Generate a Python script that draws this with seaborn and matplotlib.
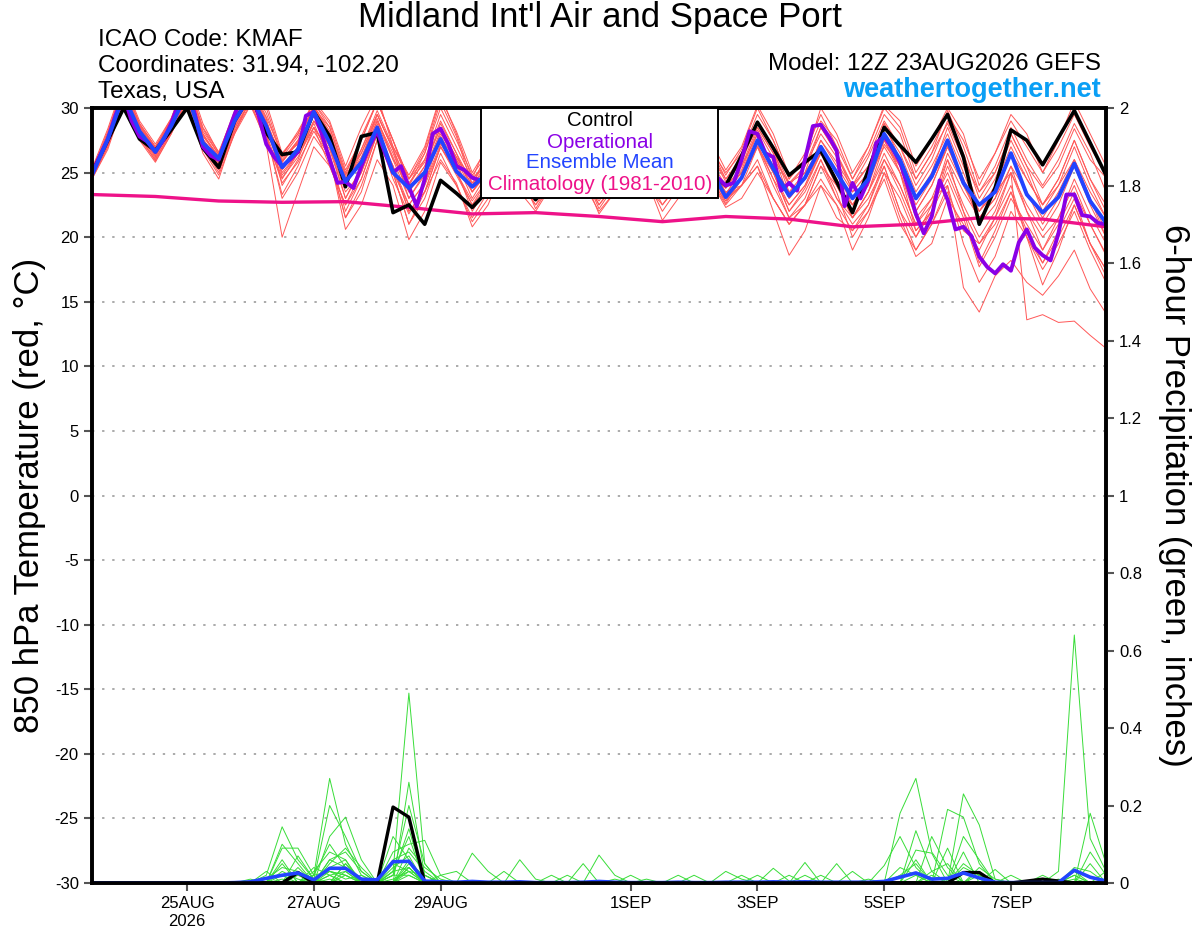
import numpy as np
import pandas as pd
import matplotlib
matplotlib.use("Agg")
import matplotlib.pyplot as plt
from matplotlib.patches import Rectangle
import seaborn as sns

# --- time axes (6-hourly ensemble, 3-hourly operational, daily climatology) ---
times = pd.date_range("2026-08-23 12:00", periods=65, freq="6h")
times_op = pd.date_range("2026-08-23 12:00", periods=129, freq="3h")
times_clim = pd.date_range("2026-08-23 12:00", periods=17, freq="24h")

tick_dates = ["2026-08-25", "2026-08-27", "2026-08-29", "2026-09-01",
              "2026-09-03", "2026-09-05", "2026-09-07"]
tick_labels = ["25AUG\n2026", "27AUG", "29AUG", "1SEP", "3SEP", "5SEP", "7SEP"]

# --- 850 hPa temperature (C) ---
temp_control = [25.0, 27.5, 30.0, 27.6, 26.7, 28.3, 30.0, 26.9, 25.4, 29.0, 31.0, 28.1,
                26.4, 26.6, 29.7, 27.8, 23.9, 27.8, 28.1, 21.9, 22.5, 21.0, 24.4, 23.4,
                22.3, 23.6, 26.0, 24.5, 22.9, 24.5, 26.5, 25.0, 23.5, 25.0, 27.0, 25.2,
                23.4, 24.8, 26.8, 25.0, 24.0, 26.3, 28.9, 26.9, 24.8, 25.8, 26.7, 24.3,
                21.9, 25.2, 28.5, 27.1, 25.8, 27.6, 29.5, 26.2, 21.0, 23.8, 28.3, 27.5,
                25.6, 27.7, 29.8, 27.3, 24.8]
temp_mean = [24.8, 27.6, 31.0, 28.2, 26.6, 28.6, 31.2, 27.3, 26.1, 29.0, 31.0, 28.6,
             25.4, 26.8, 29.7, 27.3, 24.3, 25.8, 28.5, 25.0, 23.8, 25.0, 27.6, 25.1,
             23.9, 25.0, 27.8, 25.6, 24.0, 25.4, 27.6, 25.5, 23.9, 25.2, 27.7, 25.6,
             23.8, 25.0, 27.5, 25.4, 23.1, 24.6, 27.5, 25.3, 23.2, 24.6, 27.0, 25.0,
             23.0, 24.5, 28.0, 26.0, 23.0, 24.7, 27.5, 24.2, 22.5, 23.5, 26.5, 23.3,
             21.9, 23.1, 25.7, 22.8, 21.1]
temp_oper = [24.9, 26.3, 27.6, 29.5, 31.0, 29.0, 27.8, 27.4,
             26.6, 27.5, 28.8, 30.5, 31.5, 29.5, 27.0, 26.3,
             26.0, 27.8, 29.5, 31.0, 31.5, 29.5, 27.2, 26.2,
             25.5, 26.0, 26.6, 29.4, 29.7, 28.0, 26.0, 24.2,
             24.3, 23.8, 25.5, 27.0, 28.2, 26.5, 25.0, 25.5,
             23.9, 22.4, 24.5, 28.0, 28.4, 27.2, 25.5, 25.2,
             24.6, 24.4, 24.8, 25.8, 27.5, 27.0, 25.8, 25.0,
             24.2, 24.8, 25.5, 26.6, 27.8, 27.0, 25.6, 24.8,
             24.0, 24.6, 25.4, 26.5, 27.6, 27.0, 25.8, 24.9,
             24.0, 24.6, 25.4, 26.5, 27.4, 26.8, 25.6, 24.6,
             24.0, 24.2, 26.0, 28.2, 28.0, 26.5, 26.2, 23.6,
             24.2, 23.6, 26.0, 28.6, 28.7, 27.8, 26.7, 22.4,
             24.2, 23.0, 24.4, 27.3, 27.8, 26.9, 25.8, 23.9,
             21.8, 20.3, 21.6, 24.4, 22.9, 20.6, 20.8, 20.1,
             18.5, 17.7, 17.2, 17.9, 17.4, 19.6, 20.6, 19.2,
             18.6, 18.2, 20.3, 23.3, 23.3, 21.7, 21.6, 21.1,
             21.0]
temp_clim = [23.3, 23.15, 22.8, 22.7, 22.75, 22.3, 21.8, 21.9, 21.6, 21.2, 21.6, 21.4,
             20.8, 21.0, 21.5, 21.4, 20.8]

temp_members = [
    [24.9, 27.8, 31.5, 28.5, 26.9, 28.8, 31.8, 27.8, 26.3, 29.4, 31.6, 29.0, 26.0, 27.5, 30.2, 28.0,
     24.8, 26.5, 29.2, 26.0, 24.2, 25.8, 28.4, 26.2, 24.5, 25.8, 28.2, 26.3, 24.6, 26.0, 28.3, 26.2,
     24.4, 25.8, 28.5, 26.4, 24.5, 25.6, 28.0, 26.0, 24.0, 25.2, 28.3, 26.1, 24.2, 25.5, 28.0, 26.2,
     24.0, 26.2, 29.0, 27.0, 24.5, 26.5, 28.8, 26.0, 23.5, 25.0, 28.0, 25.5, 23.8, 25.5, 28.4, 26.0, 24.6],
    [24.6, 27.0, 30.8, 28.0, 26.2, 28.4, 31.0, 27.5, 25.8, 28.5, 30.5, 27.2, 20.0, 23.5, 27.0, 25.5,
     22.5, 25.0, 28.8, 26.0, 23.0, 24.8, 27.5, 25.0, 22.8, 24.5, 27.0, 25.2, 23.5, 25.0, 27.6, 25.4,
     23.0, 24.5, 27.2, 25.0, 22.5, 24.2, 27.0, 25.2, 23.2, 24.6, 27.0, 25.0, 22.0, 23.8, 26.5, 24.5,
     21.5, 23.5, 27.2, 25.5, 22.0, 24.0, 27.0, 24.5, 21.0, 22.5, 25.5, 22.0, 20.0, 21.5, 24.5, 21.8, 19.5],
    [25.3, 28.4, 32.0, 29.0, 27.2, 29.2, 32.5, 28.8, 26.5, 29.8, 32.2, 30.4, 26.5, 28.0, 30.6, 29.0,
     25.5, 28.5, 31.0, 27.0, 24.8, 27.0, 31.0, 28.0, 24.5, 27.5, 30.5, 28.2, 25.0, 27.0, 30.2, 27.8,
     24.8, 26.8, 30.0, 27.5, 24.6, 26.5, 29.8, 27.6, 25.2, 27.0, 30.2, 28.0, 24.8, 26.0, 30.0, 28.0,
     25.0, 27.0, 30.2, 29.0, 25.5, 27.5, 30.0, 28.0, 24.0, 26.5, 29.5, 28.0, 25.0, 27.5, 30.5, 28.0, 25.5],
    [24.7, 27.3, 31.0, 28.0, 26.4, 28.5, 31.2, 27.5, 25.9, 28.8, 31.0, 28.4, 25.2, 26.8, 29.5, 27.0,
     23.5, 25.0, 28.0, 24.5, 21.8, 24.0, 27.0, 24.8, 22.5, 24.0, 26.5, 24.5, 23.0, 24.5, 26.8, 24.8,
     22.5, 24.2, 27.0, 25.0, 23.0, 24.5, 27.2, 25.0, 22.8, 24.0, 26.0, 23.0, 21.0, 22.5, 25.5, 24.0,
     22.5, 24.5, 27.0, 25.0, 21.5, 23.0, 24.0, 16.1, 14.2, 17.0, 18.2, 16.5, 15.5, 17.0, 19.0, 16.0, 14.1],
    [25.1, 27.9, 31.2, 28.3, 26.7, 28.9, 31.4, 27.0, 26.0, 29.0, 31.5, 29.2, 24.0, 26.0, 29.0, 27.5,
     24.0, 26.8, 29.8, 27.0, 24.5, 26.0, 29.0, 26.5, 23.5, 25.5, 28.5, 26.8, 24.2, 25.8, 28.0, 26.0,
     23.8, 25.5, 28.2, 26.2, 24.0, 25.8, 28.5, 26.5, 24.5, 26.0, 29.0, 26.8, 23.5, 25.0, 28.5, 26.5,
     24.0, 25.5, 28.0, 25.0, 22.0, 24.0, 27.0, 24.5, 22.0, 23.5, 25.0, 13.6, 14.0, 13.4, 13.5, 12.4, 11.4],
    [24.8, 27.5, 31.3, 28.2, 26.6, 28.6, 31.0, 27.2, 25.6, 28.2, 30.6, 28.0, 23.3, 25.5, 28.5, 26.5,
     22.0, 24.5, 28.0, 25.5, 22.5, 24.2, 27.8, 25.8, 23.0, 25.0, 27.5, 25.5, 23.5, 25.5, 28.5, 26.5,
     24.0, 25.5, 27.5, 25.0, 23.0, 24.5, 27.0, 25.5, 23.8, 25.5, 28.0, 25.0, 22.5, 24.0, 26.5, 24.0,
     21.5, 23.5, 26.5, 24.0, 21.0, 22.5, 25.0, 22.0, 19.5, 21.5, 24.0, 20.0, 16.3, 19.0, 22.5, 19.5, 17.5],
    [24.5, 26.8, 30.5, 27.8, 25.9, 28.0, 30.8, 27.0, 25.2, 28.0, 30.2, 27.5, 24.5, 26.5, 28.8, 26.0,
     21.5, 23.5, 27.5, 25.0, 21.0, 23.0, 26.5, 24.0, 21.2, 23.0, 26.0, 24.2, 22.5, 24.5, 27.0, 25.0,
     23.0, 24.8, 27.8, 25.5, 23.5, 25.0, 27.0, 24.8, 22.6, 24.5, 27.5, 25.5, 23.5, 24.5, 26.5, 24.0,
     22.5, 24.0, 27.5, 25.0, 20.5, 22.0, 24.5, 21.5, 17.7, 20.0, 23.0, 21.0, 19.0, 21.5, 24.0, 21.0, 18.7],
    [24.9, 27.6, 31.0, 28.6, 26.8, 29.0, 31.6, 28.0, 26.2, 29.2, 31.2, 28.8, 25.5, 27.0, 29.8, 27.5,
     24.5, 26.0, 29.0, 26.5, 23.5, 25.5, 28.5, 26.0, 24.0, 25.5, 28.0, 26.0, 23.8, 25.5, 27.8, 25.8,
     23.5, 25.0, 27.5, 25.5, 23.8, 25.2, 27.8, 25.5, 23.5, 24.0, 25.5, 22.0, 18.6, 20.5, 24.0, 22.5,
     19.0, 21.5, 25.0, 23.0, 20.0, 22.0, 26.0, 23.5, 21.5, 23.0, 26.5, 24.5, 22.5, 24.0, 26.0, 23.5, 21.5],
    [24.6, 27.2, 30.6, 27.6, 26.0, 28.2, 30.6, 26.8, 24.8, 28.0, 30.8, 28.2, 25.8, 27.5, 30.0, 28.0,
     24.0, 26.0, 29.5, 26.8, 23.0, 25.0, 28.0, 26.0, 23.5, 25.0, 27.8, 25.5, 23.2, 24.8, 27.2, 25.0,
     22.5, 24.0, 26.5, 24.5, 21.3, 23.0, 26.5, 24.5, 22.8, 24.5, 27.0, 24.5, 21.5, 23.0, 26.0, 23.5,
     20.0, 22.0, 25.0, 21.5, 18.5, 19.5, 23.0, 21.0, 19.0, 21.5, 25.0, 22.5, 20.5, 22.5, 25.5, 22.5, 20.0],
    [25.0, 28.0, 31.6, 28.8, 27.0, 29.0, 32.0, 28.2, 26.4, 29.5, 31.8, 29.6, 26.2, 27.8, 30.0, 28.5,
     25.0, 27.5, 30.5, 27.5, 24.5, 26.5, 30.0, 27.5, 24.8, 26.5, 29.5, 27.5, 24.5, 26.5, 29.5, 27.0,
     24.6, 26.5, 29.0, 27.0, 24.8, 26.2, 29.0, 26.8, 25.0, 26.5, 29.5, 27.5, 24.5, 26.5, 29.5, 27.0,
     24.5, 27.0, 30.0, 28.5, 25.0, 27.0, 29.5, 27.5, 24.5, 26.5, 29.0, 27.0, 25.0, 27.0, 29.5, 27.0, 24.8],
    [24.7, 27.4, 30.9, 28.1, 26.5, 28.6, 31.3, 27.6, 25.9, 29.0, 31.2, 28.6, 24.8, 26.5, 29.0, 27.0,
     23.0, 25.5, 28.5, 25.5, 22.0, 23.5, 26.0, 24.2, 20.8, 22.5, 25.5, 23.5, 22.0, 24.0, 26.5, 24.5,
     22.8, 24.5, 27.0, 25.0, 23.5, 25.0, 27.5, 25.0, 23.0, 24.0, 25.5, 23.0, 21.0, 22.5, 24.0, 21.5,
     20.5, 22.0, 24.5, 21.0, 19.0, 21.0, 23.5, 20.5, 19.5, 21.0, 23.5, 20.5, 18.0, 20.0, 22.5, 19.5, 17.5],
    [24.8, 27.7, 31.2, 28.4, 26.7, 28.8, 31.5, 27.9, 26.0, 29.0, 31.0, 28.8, 26.2, 27.2, 29.5, 27.2,
     24.2, 26.5, 29.5, 26.8, 23.8, 25.5, 28.8, 26.5, 24.2, 26.0, 28.8, 26.5, 24.0, 25.5, 28.5, 26.5,
     23.8, 25.8, 28.2, 26.0, 24.2, 25.8, 28.5, 26.2, 23.2, 25.5, 28.5, 26.5, 23.0, 24.5, 27.5, 25.5,
     23.5, 25.0, 28.5, 26.5, 23.5, 25.5, 28.0, 25.0, 22.0, 23.5, 26.5, 23.5, 21.0, 23.0, 26.0, 23.0, 20.0],
    [24.5, 27.0, 30.4, 27.5, 25.8, 28.0, 30.5, 26.5, 24.5, 28.2, 30.3, 27.8, 24.2, 25.8, 28.2, 26.2,
     20.6, 22.5, 26.0, 24.0, 19.8, 22.0, 25.8, 24.0, 21.5, 23.5, 26.5, 24.5, 22.5, 24.0, 26.2, 24.2,
     22.0, 23.5, 26.0, 24.0, 22.5, 24.0, 26.5, 24.5, 22.3, 23.0, 25.0, 23.0, 21.0, 22.5, 25.5, 23.0,
     21.5, 23.5, 26.0, 23.5, 20.5, 22.0, 25.5, 22.5, 20.0, 22.0, 25.0, 22.0, 19.0, 21.0, 23.5, 21.0, 18.6],
    [25.2, 28.2, 31.8, 28.8, 27.0, 29.2, 32.2, 28.5, 26.6, 29.6, 32.0, 30.0, 26.3, 28.2, 30.4, 28.5,
     24.8, 27.8, 30.5, 27.5, 24.0, 26.5, 30.5, 27.8, 24.0, 26.8, 29.8, 27.5, 24.6, 26.2, 29.0, 27.0,
     24.5, 26.2, 29.5, 27.2, 24.5, 26.0, 29.2, 27.0, 24.5, 26.2, 28.5, 26.5, 24.0, 25.5, 28.5, 26.5,
     23.5, 25.0, 28.8, 27.0, 24.0, 26.0, 29.0, 26.5, 23.0, 25.0, 28.0, 25.5, 22.5, 24.5, 27.5, 24.5, 22.0],
    [24.6, 27.1, 30.7, 27.9, 26.3, 28.3, 30.9, 27.3, 25.5, 28.6, 30.8, 28.0, 23.0, 25.0, 27.8, 26.0,
     21.5, 24.0, 27.5, 25.0, 21.0, 23.5, 27.0, 25.0, 22.5, 24.5, 27.5, 25.5, 23.5, 25.0, 27.5, 25.0,
     22.2, 24.0, 27.0, 25.0, 23.0, 24.5, 27.5, 25.5, 23.8, 25.0, 27.5, 25.0, 22.0, 23.5, 26.0, 23.0,
     21.0, 22.5, 26.0, 24.0, 21.0, 23.0, 26.0, 22.0, 18.0, 20.5, 23.5, 20.0, 17.5, 19.5, 22.0, 19.0, 16.5],
    [24.9, 27.7, 31.4, 28.6, 26.8, 28.7, 31.7, 28.0, 26.1, 29.1, 31.4, 28.9, 25.8, 27.4, 30.2, 28.2,
     24.6, 26.8, 29.5, 26.8, 24.0, 26.0, 29.5, 27.0, 24.5, 26.0, 29.0, 26.8, 24.5, 26.2, 28.8, 26.5,
     24.2, 26.0, 28.8, 26.5, 24.0, 25.8, 28.6, 26.5, 24.3, 25.8, 28.8, 26.8, 24.2, 25.0, 27.0, 24.0,
     21.5, 23.0, 25.5, 22.0, 20.0, 22.5, 26.5, 24.0, 22.0, 24.0, 27.0, 24.5, 22.5, 24.5, 27.5, 24.5, 22.5],
    [24.7, 27.5, 31.1, 28.3, 26.5, 28.5, 31.2, 27.4, 25.7, 28.7, 30.9, 28.3, 25.0, 26.5, 28.5, 25.5,
     22.5, 24.5, 28.0, 25.5, 22.0, 23.5, 27.0, 25.2, 22.0, 24.0, 27.0, 25.0, 22.2, 24.2, 26.8, 24.8,
     21.8, 23.5, 26.5, 24.5, 22.0, 23.8, 26.5, 24.5, 22.5, 24.0, 27.0, 24.0, 21.5, 22.5, 24.5, 22.5,
     20.5, 22.5, 25.5, 22.0, 19.0, 21.0, 24.0, 19.5, 16.5, 18.5, 22.0, 20.0, 18.0, 20.5, 23.0, 19.5, 17.0],
    [25.0, 28.1, 31.7, 28.7, 26.9, 29.1, 32.0, 28.4, 26.4, 29.3, 31.8, 29.3, 26.4, 28.0, 30.4, 28.8,
     25.2, 27.5, 30.5, 27.5, 24.5, 26.8, 30.8, 28.2, 25.0, 27.0, 30.2, 28.0, 24.8, 26.8, 29.8, 27.5,
     24.6, 26.5, 29.8, 27.5, 24.8, 26.5, 29.5, 27.2, 24.8, 26.8, 30.0, 27.5, 24.5, 26.0, 29.0, 27.5,
     24.5, 26.5, 29.5, 28.0, 24.5, 26.5, 29.8, 27.0, 23.5, 25.5, 28.5, 26.0, 24.0, 26.0, 28.8, 26.5, 23.5],
    [24.6, 27.3, 30.8, 27.8, 26.1, 28.1, 30.8, 27.0, 25.0, 28.4, 30.6, 28.0, 24.6, 26.2, 28.5, 26.8,
     23.0, 25.2, 28.2, 25.0, 22.5, 24.2, 27.2, 25.5, 23.5, 25.2, 27.8, 26.0, 23.8, 25.5, 27.8, 25.5,
     23.0, 24.8, 27.2, 25.5, 23.5, 25.0, 27.5, 25.0, 23.8, 25.0, 27.2, 24.5, 22.5, 24.0, 26.8, 25.0,
     22.5, 24.5, 27.5, 25.5, 22.5, 24.5, 27.0, 24.0, 21.5, 23.0, 25.5, 23.5, 21.5, 23.5, 26.0, 23.0, 20.5],
    [24.8, 27.6, 31.2, 28.4, 26.6, 28.7, 31.4, 27.6, 25.9, 29.1, 31.3, 28.9, 25.9, 27.3, 29.6, 27.8,
     24.4, 26.2, 29.0, 26.2, 23.5, 25.2, 28.2, 26.2, 24.0, 25.8, 28.5, 26.2, 24.0, 25.6, 28.0, 25.8,
     23.5, 25.2, 28.0, 26.0, 23.8, 25.4, 28.2, 25.8, 23.4, 25.0, 28.0, 25.5, 23.0, 24.5, 27.5, 25.8,
     23.8, 25.5, 28.8, 26.0, 23.0, 25.0, 28.5, 25.5, 22.5, 24.5, 27.5, 25.0, 22.0, 24.0, 27.0, 24.0, 21.5],
]

# --- 6-hour precipitation (inches) ---
precip_control = [0, 0, 0, 0, 0, 0, 0, 0, 0, 0, 0, 0, 0,
                  .027, 0, 0, 0, 0, 0, .196, .17, 0, 0, 0, 0, 0,
                  0, 0, 0, 0, 0, 0, 0, 0, 0, 0, 0, 0, 0,
                  0, 0, 0, 0, 0, 0, 0, 0, 0, 0, 0, 0, 0,
                  0, 0, 0, .027, .027, 0, 0, .005, .01, .005, 0, 0, 0]
precip_mean = [0, 0, 0, 0, 0, 0, 0, 0, 0, .001, .003, .012, .02,
               .026, .008, .038, .038, .01, .008, .055, .056, .005, .003, .002, .004, .002,
               .002, .003, .001, .001, .001, .002, .004, .002, .001, .001, .001, .002, .001,
               .001, .002, .002, .002, .003, .002, .003, .002, .002, .002, .002, .004, .015,
               .026, .01, .012, .026, .013, .002, .001, .001, .001, .001, .033, .015, .005]

precip_members = [
    [0, 0, 0, 0, 0, 0, 0, 0, 0, 0, 0, .02, .145,
     .06, .01, .03, .02, 0, 0, .03, .49, .05, 0, 0, 0, 0,
     0, 0, 0, 0, 0, 0, 0, 0, 0, 0, 0, 0, 0,
     0, 0, 0, 0, 0, 0, 0, 0, 0, 0, 0, 0, .02,
     .05, 0, 0, 0, 0, 0, 0, 0, 0, 0, 0, 0, 0],
    [0, 0, 0, 0, 0, 0, 0, 0, 0, 0, 0, 0, .09,
     .09, .02, .27, .10, .02, 0, 0, .26, .02, 0, 0, 0, 0,
     0, 0, 0, 0, 0, 0, 0, 0, 0, 0, 0, 0, 0,
     0, 0, 0, 0, 0, 0, 0, 0, 0, 0, 0, 0, 0,
     0, 0, 0, 0, 0, 0, 0, 0, 0, .03, .64, .115, .03],
    [0, 0, 0, 0, 0, 0, 0, 0, 0, 0, 0, 0, 0,
     .04, 0, .12, .17, .06, 0, .08, .10, .11, .02, 0, 0, 0,
     0, 0, 0, 0, 0, 0, 0, 0, 0, 0, 0, 0, 0,
     0, 0, 0, 0, 0, 0, 0, 0, 0, 0, 0, 0, .18,
     .27, .08, .02, 0, 0, 0, 0, 0, 0, 0, 0, 0, 0],
    [0, 0, 0, 0, 0, 0, 0, 0, 0, 0, .01, 0, .05,
     0, .03, .08, .06, 0, 0, .12, .06, 0, 0, 0, .077, .03,
     0, 0, 0, 0, 0, 0, 0, 0, 0, 0, 0, 0, 0,
     0, 0, 0, 0, 0, 0, 0, 0, 0, 0, 0, 0, 0,
     0, 0, 0, .23, .15, .01, 0, 0, 0, 0, 0, 0, 0],
    [0, 0, 0, 0, 0, 0, 0, 0, 0, 0, 0, .03, 0,
     .02, 0, .05, .09, .04, 0, .05, .03, 0, 0, 0, 0, 0,
     0, .06, .01, 0, 0, 0, 0, 0, 0, 0, 0, 0, 0,
     0, 0, 0, 0, 0, 0, 0, 0, 0, 0, 0, 0, 0,
     0, 0, .19, .17, .05, 0, 0, 0, 0, 0, 0, .18, .05],
    [0, 0, 0, 0, 0, 0, 0, 0, 0, 0, 0, 0, 0,
     0, .01, .20, .12, .03, 0, 0, .09, .04, .01, 0, 0, 0,
     0, 0, 0, 0, 0, 0, .072, .02, 0, 0, 0, 0, 0,
     0, 0, 0, 0, 0, 0, 0, 0, 0, 0, 0, 0, 0,
     .135, .03, 0, 0, 0, 0, 0, 0, 0, 0, .03, 0, 0],
    [0, 0, 0, 0, 0, 0, 0, 0, 0, 0, 0, 0, .03,
     .01, 0, 0, .05, 0, 0, .02, .14, 0, .02, .03, 0, 0,
     0, 0, 0, 0, 0, 0, 0, 0, 0, 0, 0, 0, 0,
     0, 0, 0, 0, .038, .005, 0, 0, 0, 0, 0, .045, .12,
     .04, 0, 0, 0, 0, 0, 0, 0, 0, 0, 0, .08, .02],
    [0, 0, 0, 0, 0, 0, 0, 0, 0, 0, 0, 0, .02,
     0, 0, .02, .03, 0, 0, .04, .07, 0, 0, 0, 0, 0,
     .03, 0, 0, 0, 0, 0, 0, 0, 0, 0, 0, 0, 0,
     0, 0, 0, 0, 0, 0, .053, 0, 0, 0, 0, 0, 0,
     .085, .077, 0, 0, .03, 0, 0, 0, 0, 0, 0, 0, 0],
    [0, 0, 0, 0, 0, 0, 0, 0, 0, 0, 0, 0, 0,
     .03, 0, .06, .04, 0, 0, 0, .05, .02, 0, 0, 0, 0,
     0, 0, 0, 0, 0, .05, 0, 0, 0, 0, 0, 0, 0,
     0, 0, 0, 0, 0, 0, 0, 0, .05, 0, 0, 0, 0,
     0, 0, 0, .05, .02, 0, .02, 0, 0, 0, .02, 0, 0],
    [0, 0, 0, 0, 0, 0, 0, 0, 0, 0, 0, 0, .06,
     0, .02, .03, .01, .02, 0, .03, .04, 0, 0, 0, 0, 0,
     0, 0, 0, .02, 0, 0, 0, 0, 0, 0, 0, 0, 0,
     0, .03, .01, 0, 0, 0, 0, 0, 0, 0, 0, 0, 0,
     .02, 0, 0, .12, .06, 0, 0, 0, 0, 0, 0, 0, .03],
    [0, 0, 0, 0, 0, 0, 0, 0, 0, 0, 0, 0, 0,
     0, 0, .04, .06, 0, 0, 0, .03, .02, 0, 0, 0, 0,
     0, 0, 0, 0, 0, 0, 0, 0, .02, 0, 0, 0, 0,
     0, 0, 0, 0, 0, 0, 0, 0, 0, .03, 0, 0, 0,
     0, 0, 0, 0, 0, .035, 0, 0, 0, .01, 0, 0, 0],
    [0, 0, 0, 0, 0, 0, 0, 0, 0, 0, 0, .01, .04,
     .03, 0, .01, 0, 0, 0, .02, .02, 0, 0, 0, 0, 0,
     0, 0, 0, 0, 0, 0, 0, 0, 0, 0, 0, .02, 0,
     0, 0, 0, 0, 0, 0, 0, 0, 0, 0, 0, 0, .04,
     .02, 0, 0, 0, 0, 0, 0, 0, .02, 0, 0, 0, 0],
    [0, 0, 0, 0, 0, 0, 0, 0, 0, 0, 0, 0, 0,
     0, .02, .10, .04, 0, 0, 0, .04, 0, 0, 0, 0, 0,
     0, 0, 0, 0, 0, 0, 0, 0, 0, 0, 0, 0, 0,
     0, 0, 0, 0, 0, 0, .02, 0, 0, 0, 0, 0, 0,
     0, .03, .05, 0, 0, 0, 0, 0, 0, 0, 0, .05, 0],
    [0, 0, 0, 0, 0, 0, 0, 0, 0, 0, 0, 0, .10,
     .05, 0, 0, .02, 0, 0, .06, .08, .03, 0, 0, 0, 0,
     0, 0, 0, 0, 0, 0, 0, 0, 0, 0, 0, 0, 0,
     0, 0, 0, .02, 0, 0, 0, 0, 0, 0, 0, 0, 0,
     0, 0, 0, .04, .02, 0, 0, 0, 0, 0, 0, 0, 0],
    [0, 0, 0, 0, 0, 0, 0, 0, 0, 0, 0, 0, 0,
     0, 0, .06, .08, .03, 0, 0, .02, 0, 0, 0, 0, 0,
     0, 0, 0, 0, 0, 0, 0, 0, 0, 0, 0, 0, .02,
     0, 0, 0, 0, 0, 0, 0, 0, 0, 0, .01, 0, 0,
     0, 0, .09, 0, 0, 0, 0, 0, 0, 0, .02, 0, 0],
    [0, 0, 0, 0, 0, 0, 0, 0, 0, 0, 0, 0, 0,
     .07, .01, 0, .03, 0, 0, .01, .03, 0, 0, 0, 0, 0,
     0, 0, 0, 0, .02, 0, 0, 0, 0, 0, 0, 0, 0,
     0, 0, 0, 0, 0, 0, 0, 0, 0, 0, 0, 0, 0,
     .06, 0, 0, 0, .04, .01, 0, 0, 0, 0, 0, 0, .01],
    [0, 0, 0, 0, 0, 0, 0, 0, 0, 0, 0, 0, 0,
     0, 0, .02, 0, 0, 0, .02, .20, .05, 0, 0, 0, 0,
     0, 0, 0, 0, 0, 0, 0, 0, 0, .01, 0, 0, 0,
     0, 0, 0, 0, 0, 0, 0, .02, 0, 0, 0, 0, 0,
     0, .12, .04, 0, 0, 0, 0, 0, 0, 0, 0, 0, 0],
    [0, 0, 0, 0, 0, 0, 0, 0, 0, 0, 0, 0, 0,
     0, .04, .02, 0, 0, 0, 0, .06, 0, 0, 0, 0, 0,
     0, 0, 0, 0, 0, 0, 0, 0, 0, 0, 0, 0, 0,
     0, 0, 0, 0, 0, .02, 0, 0, 0, 0, 0, 0, 0,
     0, 0, 0, 0, .02, 0, 0, 0, 0, 0, .04, .03, 0],
    [0, 0, 0, 0, 0, 0, 0, 0, 0, 0, 0, 0, .01,
     0, 0, 0, .05, .01, 0, .03, .12, 0, 0, 0, 0, 0,
     0, 0, 0, 0, 0, 0, 0, .01, 0, 0, 0, 0, 0,
     0, 0, 0, 0, 0, 0, 0, 0, 0, 0, 0, 0, 0,
     0, 0, 0, .08, 0, 0, 0, 0, .01, 0, 0, 0, 0],
    [0, 0, 0, 0, 0, 0, 0, 0, 0, 0, 0, 0, 0,
     0, 0, .03, .02, 0, 0, 0, .04, 0, 0, 0, 0, 0,
     0, 0, 0, 0, 0, 0, 0, 0, 0, 0, 0, 0, 0,
     0, 0, .02, 0, 0, 0, 0, 0, 0, 0, 0, 0, 0,
     0, .02, 0, 0, 0, 0, 0, 0, 0, 0, .01, 0, 0],
]

for row in temp_members + precip_members:
    assert len(row) == 65, len(row)
assert len(temp_oper) == 129

# long-form tables for seaborn
ens_t = pd.DataFrame([(m, t, v) for m, row in enumerate(temp_members)
                      for t, v in zip(times, row)], columns=["member", "time", "value"])
ens_p = pd.DataFrame([(m, t, v) for m, row in enumerate(precip_members)
                      for t, v in zip(times, row)], columns=["member", "time", "value"])

RED = "#ff5858"
GREEN = "#38dd38"
PURPLE = "#8a00e6"
BLUE = "#2244ff"
MAGENTA = "#ee1289"

sns.set_style("white")
plt.rcParams["font.family"] = ["Liberation Sans", "DejaVu Sans"]
plt.rcParams["text.color"] = "black"
plt.rcParams["axes.labelcolor"] = "black"
plt.rcParams["xtick.color"] = "black"
plt.rcParams["ytick.color"] = "black"

W, H = 1200, 927
fig = plt.figure(figsize=(W / 100, H / 100), dpi=100)
L, R, T, B = 92, 1106, 108, 883
ax = fig.add_axes([L / W, 1 - B / H, (R - L) / W, (B - T) / H])

sns.lineplot(data=ens_t, x="time", y="value", units="member", estimator=None,
             color=RED, lw=0.7, ax=ax, legend=False)
sns.lineplot(x=times_clim, y=temp_clim, color=MAGENTA, lw=2.4, ax=ax)
sns.lineplot(x=times, y=temp_control, color="black", lw=2.6, ax=ax)
sns.lineplot(x=times_op, y=temp_oper, color=PURPLE, lw=2.8, ax=ax)
sns.lineplot(x=times, y=temp_mean, color=BLUE, lw=2.8, ax=ax)

ax.set_xlim(times[0], times[-1])
ax.set_ylim(-30, 30)
ax.set_yticks(range(-30, 31, 5))
ax.set_yticklabels([str(v) for v in range(-30, 31, 5)])
ax.set_xticks(pd.to_datetime(tick_dates))
ax.set_xticklabels(tick_labels)
for y in range(-25, 30, 5):
    ax.axhline(y, color="#aaaaaa", lw=1.4, ls=(0, (1.2, 4)), zorder=0)
ax.set_xlabel("")
ax.set_ylabel("")
ax.tick_params(axis="both", direction="out", length=6, width=1.5, labelsize=12,
               color="#555555", labelcolor="black", left=True, bottom=True)

ax2 = ax.twinx()
sns.lineplot(data=ens_p, x="time", y="value", units="member", estimator=None,
             color=GREEN, lw=0.7, ax=ax2, legend=False)
sns.lineplot(x=times, y=precip_control, color="black", lw=2.4, ax=ax2)
sns.lineplot(x=times, y=precip_mean, color=BLUE, lw=2.6, ax=ax2)
ax2.set_xlim(times[0], times[-1])
ax2.set_ylim(0, 2)
rticks = np.round(np.arange(0, 2.01, 0.2), 1)
ax2.set_yticks(rticks)
ax2.set_yticklabels([("%g" % v) for v in rticks])
ax2.set_ylabel("")
ax2.set_xlabel("")
ax2.tick_params(axis="y", direction="out", length=6, width=1.5, labelsize=12,
                color="#555555", labelcolor="black", right=True)

for a in (ax, ax2):
    for s in a.spines.values():
        s.set_color("black")
        s.set_linewidth(2.6)

# legend box in the top middle
box = Rectangle((481 / W, 1 - 198 / H), 237 / W, 90 / H, transform=fig.transFigure,
                facecolor="white", edgecolor="black", lw=1.4, zorder=20)
ax2.add_patch(box)
for txt, col, yy in [("Control", "black", 121), ("Operational", PURPLE, 142),
                     ("Ensemble Mean", BLUE, 163), ("Climatology (1981-2010)", MAGENTA, 185)]:
    fig.text(600 / W, 1 - yy / H, txt, color=col, ha="center", va="center",
             fontsize=14.8, zorder=21)

# headers
fig.text(600 / W, 1 - 18 / H, "Midland Int'l Air and Space Port", ha="center", va="center",
         fontsize=25, color="black")
for txt, yy in [("ICAO Code: KMAF", 40), ("Coordinates: 31.94, -102.20", 66), ("Texas, USA", 92)]:
    fig.text(98 / W, 1 - yy / H, txt, ha="left", va="center", fontsize=17.5, color="black")
fig.text(1101 / W, 1 - 64 / H, "Model: 12Z 23AUG2026 GEFS", ha="right", va="center",
         fontsize=17.4, color="black")
fig.text(1101 / W, 1 - 90 / H, "weathertogether.net", ha="right", va="center",
         fontsize=19.5, fontweight="bold", color="#0a9ff5")

fig.text(30 / W, 1 - 495 / H, "850 hPa Temperature (red, \u00b0C)", rotation=90,
         ha="center", va="center", fontsize=25, color="black")
fig.text(1175 / W, 1 - 495 / H, "6-hour Precipitation (green, inches)", rotation=270,
         ha="center", va="center", fontsize=25, color="black")

fig.savefig("out.png", dpi=100)
